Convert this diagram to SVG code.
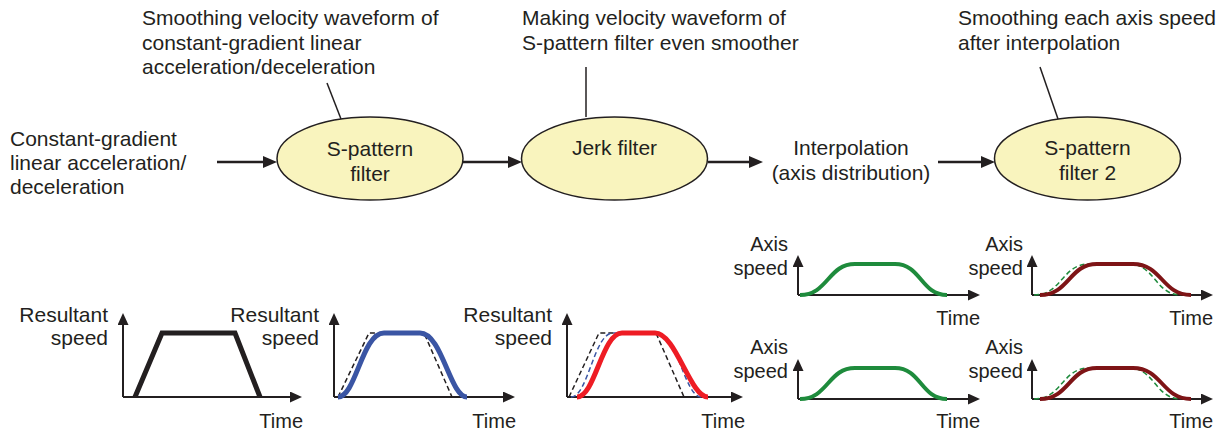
<svg xmlns="http://www.w3.org/2000/svg" width="1231" height="436" viewBox="0 0 1231 436">
<style>
text{font-family:"Liberation Sans",Arial,sans-serif;fill:#231F20}
.t{font-size:21px}
.c{font-size:20px}
.r{font-size:21px}
.m{text-anchor:middle}
.e{text-anchor:end}
.node{fill:#F9F4BE;stroke:#231F20;stroke-width:1.5}
.conn{stroke:#231F20;stroke-width:2.5;fill:none}
.lead{stroke:#231F20;stroke-width:1.5;fill:none}
.ax{stroke:#231F20;stroke-width:2;fill:none}
.dash{fill:none;stroke-width:1.5;stroke-dasharray:5 3}
</style>
<defs>
<marker id="arr" markerUnits="userSpaceOnUse" markerWidth="16" markerHeight="14" refX="6" refY="6" orient="auto">
<path d="M0,0 L14,6 L0,12 z" fill="#231F20"/>
</marker>
<marker id="axa" markerUnits="userSpaceOnUse" markerWidth="14" markerHeight="12" refX="5" refY="5.5" orient="auto">
<path d="M0,0 L12,5.5 L0,11 z" fill="#231F20"/>
</marker>
</defs>

<g id="connectors">
<line class="conn" x1="217" y1="162" x2="269" y2="162" marker-end="url(#arr)"/>
<line class="conn" x1="463" y1="162" x2="514" y2="162" marker-end="url(#arr)"/>
<line class="conn" x1="708" y1="162" x2="755" y2="162" marker-end="url(#arr)"/>
<line class="conn" x1="938" y1="162" x2="987" y2="162" marker-end="url(#arr)"/>
<line class="lead" x1="327" y1="83" x2="341" y2="119"/>
<line class="lead" x1="586" y1="67" x2="586" y2="117"/>
<line class="lead" x1="1040" y1="67" x2="1058" y2="119"/>
</g>

<g id="input-label">
<text class="t" x="10" y="146">Constant-gradient</text>
<text class="t" x="10" y="170">linear acceleration/</text>
<text class="t" x="10" y="194">deceleration</text>
</g>

<g id="note1">
<text class="t" x="142" y="25">Smoothing velocity waveform of</text>
<text class="t" x="142" y="50">constant-gradient linear</text>
<text class="t" x="142" y="74">acceleration/deceleration</text>
</g>
<g id="note2">
<text class="t" x="522" y="25">Making velocity waveform of</text>
<text class="t" x="522" y="50">S-pattern filter even smoother</text>
</g>
<g id="note3">
<text class="t" x="958" y="25">Smoothing each axis speed</text>
<text class="t" x="958" y="50">after interpolation</text>
</g>

<g id="s-pattern-filter">
<ellipse class="node" cx="370" cy="158.5" rx="93" ry="41.5"/>
<text class="t m" x="370" y="156">S-pattern</text>
<text class="t m" x="370" y="181">filter</text>
</g>
<g id="jerk-filter">
<ellipse class="node" cx="614.5" cy="158.5" rx="93" ry="41.5"/>
<text class="t m" x="614.5" y="155">Jerk filter</text>
</g>
<g id="interpolation">
<text class="t m" x="851" y="155">Interpolation</text>
<text class="t m" x="851" y="180">(axis distribution)</text>
</g>
<g id="s-pattern-filter-2">
<ellipse class="node" cx="1087.5" cy="158.5" rx="93" ry="41.5"/>
<text class="t m" x="1087.5" y="155">S-pattern</text>
<text class="t m" x="1087.5" y="180">filter 2</text>
</g>

<g id="chart1">
<line class="ax" x1="123" y1="397" x2="295" y2="397" marker-end="url(#axa)"/>
<line class="ax" x1="123" y1="397" x2="123" y2="320" marker-end="url(#axa)"/>
<polyline points="135,397 162,333 235,333 260,397" fill="none" stroke="#231F20" stroke-width="5" stroke-linejoin="miter"/>
<text class="r e" x="108" y="322">Resultant</text>
<text class="r e" x="108" y="345">speed</text>
<text class="c e" x="303" y="428">Time</text>
</g>

<g id="chart2">
<line class="ax" x1="334" y1="397" x2="508" y2="397" marker-end="url(#axa)"/>
<line class="ax" x1="334" y1="397" x2="334" y2="320" marker-end="url(#axa)"/>
<polyline class="dash" stroke="#231F20" points="338,397 369,333 424,333 452,397"/>
<path d="M338,397 C356,397 362,333 384,333 L420,333 C442,333 450,397 467,397" fill="none" stroke="#3A55A4" stroke-width="5"/>
<text class="r e" x="319" y="322">Resultant</text>
<text class="r e" x="319" y="345">speed</text>
<text class="c e" x="516" y="428">Time</text>
</g>

<g id="chart3">
<line class="ax" x1="567" y1="397" x2="736" y2="397" marker-end="url(#axa)"/>
<line class="ax" x1="567" y1="397" x2="567" y2="320" marker-end="url(#axa)"/>
<polyline class="dash" stroke="#231F20" points="569,397 599,333 656,333 684,397"/>
<path class="dash" stroke="#3A55A4" d="M571,397 C588,397 594,333 613,333 L657,333 C677,333 685,397 701,397"/>
<path d="M577,397 C595,397 602,333 622,333 L655,333 C676,333 690,397 708,397" fill="none" stroke="#EE1C24" stroke-width="5"/>
<text class="r e" x="552" y="322">Resultant</text>
<text class="r e" x="552" y="345">speed</text>
<text class="c e" x="745" y="428">Time</text>
</g>

<g id="chartA">
<line class="ax" x1="798" y1="295" x2="973" y2="295" marker-end="url(#axa)"/>
<line class="ax" x1="798" y1="295" x2="798" y2="262" marker-end="url(#axa)"/>
<path d="M800,295 C828,295 828,264 855,264 L895,264 C921,264 921,295 947,295" fill="none" stroke="#1E8B3C" stroke-width="4"/>
<text class="c e" x="788" y="251">Axis</text>
<text class="c e" x="788" y="275">speed</text>
<text class="c e" x="980" y="325">Time</text>
</g>
<g id="chartB">
<line class="ax" x1="1032" y1="295" x2="1206" y2="295" marker-end="url(#axa)"/>
<line class="ax" x1="1032" y1="295" x2="1032" y2="262" marker-end="url(#axa)"/>
<path class="dash" stroke="#1E8B3C" d="M1034,295 C1062,295 1062,264 1089,264 L1129,264 C1155,264 1155,295 1181,295"/>
<path d="M1040,295 C1069,295 1069,264 1097,264 L1133,264 C1162,264 1162,295 1191,295" fill="none" stroke="#7E1416" stroke-width="4"/>
<text class="c e" x="1023" y="251">Axis</text>
<text class="c e" x="1023" y="275">speed</text>
<text class="c e" x="1213" y="325">Time</text>
</g>
<g id="chartC" transform="translate(0,104)">
<line class="ax" x1="798" y1="295" x2="973" y2="295" marker-end="url(#axa)"/>
<line class="ax" x1="798" y1="295" x2="798" y2="262" marker-end="url(#axa)"/>
<path d="M800,295 C828,295 828,264 855,264 L895,264 C921,264 921,295 947,295" fill="none" stroke="#1E8B3C" stroke-width="4"/>
<text class="c e" x="788" y="250">Axis</text>
<text class="c e" x="788" y="274">speed</text>
<text class="c e" x="980" y="324">Time</text>
</g>
<g id="chartD" transform="translate(0,104)">
<line class="ax" x1="1032" y1="295" x2="1206" y2="295" marker-end="url(#axa)"/>
<line class="ax" x1="1032" y1="295" x2="1032" y2="262" marker-end="url(#axa)"/>
<path class="dash" stroke="#1E8B3C" d="M1034,295 C1062,295 1062,264 1089,264 L1129,264 C1155,264 1155,295 1181,295"/>
<path d="M1040,295 C1069,295 1069,264 1097,264 L1133,264 C1162,264 1162,295 1191,295" fill="none" stroke="#7E1416" stroke-width="4"/>
<text class="c e" x="1023" y="250">Axis</text>
<text class="c e" x="1023" y="274">speed</text>
<text class="c e" x="1213" y="324">Time</text>
</g>
</svg>
